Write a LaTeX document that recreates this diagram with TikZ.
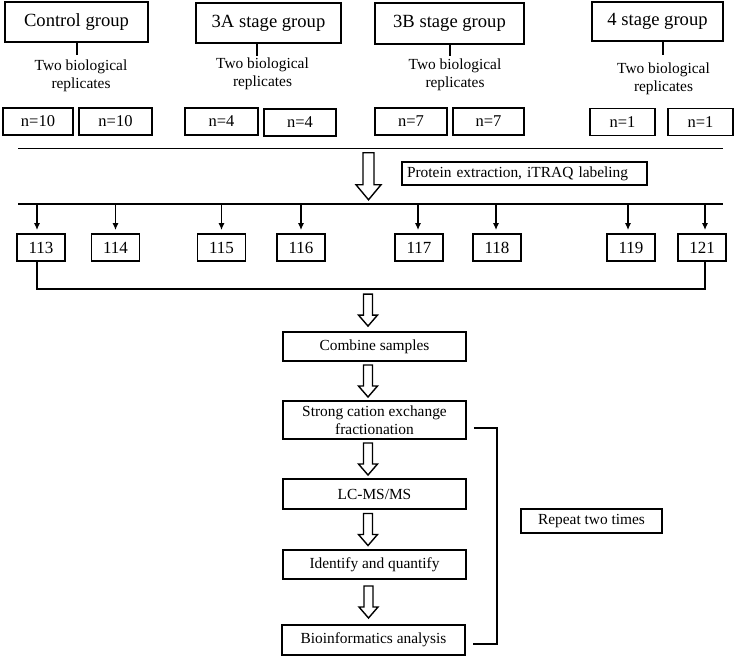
\documentclass[tikz,border=0pt]{standalone}
\usepackage{fontspec}
\setmainfont{Liberation Serif}
\usetikzlibrary{calc,arrows.meta}
\begin{document}
\begin{tikzpicture}[x=1pt,y=-1pt,
 ln/.style={line width=1.7pt},
 bx/.style={draw,line width=1.7pt,inner sep=0pt,align=center},
 grp/.style={bx,font=\fontsize{18.6}{22}\selectfont},
 nbx/.style={bx,minimum height=27pt,font=\fontsize{16.5}{19}\selectfont},
 lab/.style={bx,minimum width=48pt,minimum height=27pt,font=\fontsize{17}{20}\selectfont},
 flowbox/.style={bx,minimum width=183pt,font=\fontsize{15.4}{18}\selectfont},
 txt/.style={align=center,inner sep=0pt,font=\fontsize{15.4}{18}\selectfont},
 sarr/.style={ln,-{Latex[length=7pt,width=6pt]},shorten >=3pt},
 hol/.style={draw,line width=1.4pt,fill=white,line join=miter},
 pics/harrow/.style n args={4}{code={
   \draw[hol] (-#3/2,-#1/2) -- (#3/2,-#1/2) -- (#3/2,#1/2-#4) -- (#2/2,#1/2-#4)
     -- (0,#1/2) -- (-#2/2,#1/2-#4) -- (-#3/2,#1/2-#4) -- cycle;}}
]
\useasboundingbox (0,0) rectangle (741,656);

% group boxes
\node[grp,minimum width=143pt,minimum height=40pt] (ctrl) at (76.5,22) {Control group};
\node[grp,minimum width=145pt,minimum height=40pt] (g3a) at (268.5,23) {3A stage group};
\node[grp,minimum width=149pt,minimum height=41pt] (g3b) at (449.5,23.5) {3B stage group};
\node[grp,minimum width=131pt,minimum height=39pt] (g4) at (657.5,21.5) {4 stage group};

% stems
\coordinate (s1) at (77,55);
\coordinate (s2) at (257,56);
\coordinate (s3) at (450,56);
\coordinate (s4) at (663,55);
\draw[ln] (ctrl.south -| s1) -- (s1);
\draw[ln] (g3a.south -| s2) -- (s2);
\draw[ln] (g3b.south -| s3) -- (s3);
\draw[ln] (g4.south -| s4) -- (s4);

% replicate texts
\node[txt] (r1) at (81,76) {Two biological\\replicates};
\node[txt] (r2) at (262.5,74) {Two biological\\replicates};
\node[txt] (r3) at (455,75) {Two biological\\replicates};
\node[txt] (r4) at (663.5,79) {Two biological\\replicates};

% n boxes
\node[nbx,minimum width=70pt] (c1) at (38,121.5) {n=10};
\node[nbx,minimum width=73pt] (c2) at (115.5,121.5) {n=10};
\node[nbx,minimum width=73pt] (a1) at (221.5,121.5) {n=4};
\node[nbx,minimum width=72pt] (a2) at (300,122.5) {n=4};
\node[nbx,minimum width=72pt] (b1) at (411,121.5) {n=7};
\node[nbx,minimum width=71pt] (b2) at (488.5,121.5) {n=7};
\node[nbx,minimum width=65pt] (d1) at (622.5,122) {n=1};
\node[nbx,minimum width=65pt] (d2) at (700.5,122) {n=1};

% first line
\coordinate (h1a) at (18,148.5);
\coordinate (h1b) at (723,148.5);
\draw[ln] (h1a) -- (h1b);

% second line
\coordinate (h2a) at (18,204);
\coordinate (h2b) at (723,204);
\draw[ln] (h2a) -- (h2b);

% big hollow arrow
\pic at ($(h1a)!.5!(h2a)+(350.5,0)$) {harrow={47}{25}{11}{15}};

% protein box
\node[bx,text width=235pt,align=left,inner xsep=5pt,minimum height=23pt,
      font=\fontsize{15.4}{18}\selectfont] (prot) at (524.5,173.5)
      {Protein extraction, iTRAQ labeling};

% label boxes
\node[lab] (n113) at (41,247.5) {113};
\node[lab] (n114) at (115.5,247.5) {114};
\node[lab] (n115) at (221.5,247.5) {115};
\node[lab] (n116) at (301,247.5) {116};
\node[lab] (n117) at (419,247.5) {117};
\node[lab] (n118) at (497,247.5) {118};
\node[lab] (n119) at (631,247.5) {119};
\node[lab] (n121) at (702,247.5) {121};

% small arrows
\draw[sarr] ([xshift=-4pt]n113.north |- h2a) -- ([xshift=-4pt]n113.north);
\draw[sarr] (n114.north |- h2a) -- (n114.north);
\draw[sarr] (n115.north |- h2a) -- (n115.north);
\draw[sarr] (n116.north |- h2a) -- (n116.north);
\draw[sarr] ([xshift=-1pt]n117.north |- h2a) -- ([xshift=-1pt]n117.north);
\draw[sarr] ([xshift=-1pt]n118.north |- h2a) -- ([xshift=-1pt]n118.north);
\draw[sarr] ([xshift=-3pt]n119.north |- h2a) -- ([xshift=-3pt]n119.north);
\draw[sarr] ([xshift=3pt]n121.north |- h2a) -- ([xshift=3pt]n121.north);

% bracket combining
\coordinate (bk2) at (705,289);
\draw[ln] ([xshift=-4pt]n113.south) |- (bk2) -- ([xshift=3pt]n121.south);

% flow boxes
\node[flowbox,minimum height=29pt] (comb) at (374.5,346.5) {Combine samples};
\node[flowbox,minimum height=38pt] (scx) at (374.5,420) {Strong cation exchange\\fractionation};
\node[flowbox,minimum height=30pt] (lcms) at (374.5,494) {LC-MS/MS};
\node[flowbox,minimum height=29pt] (iden) at (374.5,564.5) {Identify and quantify};
\node[flowbox,minimum height=30pt] (bio) at (373.5,640) {Bioinformatics analysis};

% hollow arrows
\pic at ($(comb.north |- bk2)!.5!(comb.north)+(-6.5,0)$) {harrow={32}{19}{9}{11}};
\pic at ($(comb.south)!.5!(scx.north)+(-6.5,0)$) {harrow={32}{19}{9}{11}};
\pic at ($(scx.south)!.5!(lcms.north)+(-6.5,0)$) {harrow={32}{19}{9}{11}};
\pic at ($(lcms.south)!.5!(iden.north)+(-6.5,0)$) {harrow={32}{19}{9}{11}};
\pic at ($(iden.south)!.5!(bio.north)+(-5.5,0)$) {harrow={32}{19}{9}{11}};

% repeat bracket
\coordinate (rb1) at (497,428);
\coordinate (rb2) at (497,644);
\draw[ln] ([xshift=7pt]scx.east |- rb1) -- (rb1) -- (rb2) -- ([xshift=7pt]bio.east |- rb2);

\node[bx,minimum width=141pt,minimum height=24pt,font=\fontsize{15.4}{18}\selectfont]
  (rep) at (591.5,521) {Repeat two times};
\end{tikzpicture}
\end{document}
